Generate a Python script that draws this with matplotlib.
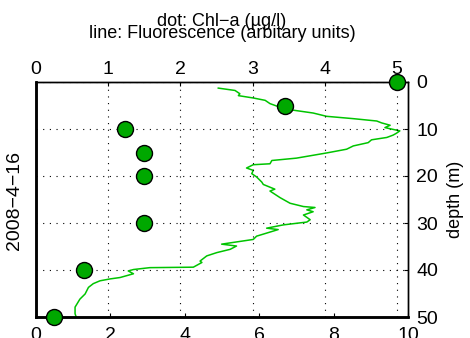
import matplotlib
matplotlib.use("Agg")

import matplotlib.pyplot as plt

plt.rcParams["font.family"] = ["Liberation Sans", "DejaVu Sans"]

# Chl-a samples (dots, top axis)
chl_depth = [0, 5, 10, 15, 20, 30, 40, 50]
chl_value = [5.0, 3.45, 1.23, 1.49, 1.49, 1.49, 0.66, 0.25]

# Fluorescence profile (line, bottom axis)
fl_depth = [1.3, 1.8, 2.5, 2.9, 3.4, 3.9, 4.6, 5.2, 6.0, 6.6, 7.3, 7.8, 8.3,
            8.7, 9.2, 9.7, 10.4, 10.9, 11.3, 11.8, 12.3, 12.9, 13.6, 14.3,
            15.1, 16.2, 16.7, 17.4, 17.6, 18.3, 18.8, 19.5, 20.2, 21.3, 21.8,
            22.8, 23.2, 24.6, 25.8, 26.5, 26.7, 27.2, 27.6, 28.3, 29.3, 29.8,
            30.4, 31.1, 31.4, 32.8, 33.5, 34.5, 34.9, 35.6, 36.3, 37.0, 38.1,
            38.4, 39.4, 39.5, 39.9, 40.2, 40.8, 41.6, 41.9, 42.3, 42.9, 43.7,
            45.1, 46.2, 47.9, 49.3, 50.0]
fl_value = [4.90, 5.35, 5.48, 5.44, 5.84, 6.16, 6.29, 6.50, 6.92, 7.45, 7.81,
            8.53, 9.16, 9.29, 9.52, 9.38, 9.78, 9.69, 9.60, 9.43, 9.02, 8.93,
            8.53, 8.35, 7.81, 7.00, 6.34, 6.29, 5.84, 5.66, 5.84, 5.80, 5.93,
            6.07, 6.11, 6.42, 6.29, 6.56, 6.83, 7.19, 7.50, 7.28, 7.45, 7.19,
            7.37, 7.28, 6.65, 6.20, 6.51, 5.93, 5.84, 4.99, 5.39, 5.22, 4.86,
            4.59, 4.41, 4.46, 4.23, 3.06, 2.62, 2.48, 2.62, 2.26, 1.99, 1.72,
            1.54, 1.41, 1.32, 1.18, 1.05, 1.05, 1.08]

top_ticks = [0, 1, 2, 3, 4, 5]
bottom_ticks = [0, 2, 4, 6, 8, 10]
depth_ticks = [0, 10, 20, 30, 40, 50]

fig = plt.figure(figsize=(4.7, 3.38), dpi=100)
ax = fig.add_axes([36 / 470, 1 - 317 / 338, 372 / 470, 235 / 338])

# fluorescence line
ax.plot(fl_value, fl_depth, color="#00c400", linewidth=1.1, zorder=2)
ax.set_xlim(0, 10)
ax.set_ylim(50, 0)
ax.set_xticks(bottom_ticks)
ax.set_yticks(depth_ticks)
ax.yaxis.tick_right()
ax.yaxis.set_label_position("right")
ax.set_ylabel("depth (m)", fontsize=13, labelpad=6)
ax.tick_params(axis="both", direction="in", labelsize=14, length=3)
ax.tick_params(axis="y", pad=6)
ax.tick_params(axis="x", pad=7)
ax.yaxis.grid(True, linestyle=(0, (1, 5)), color="black", linewidth=0.8)

# chlorophyll dots
ax2 = ax.twiny()
ax2.plot(chl_value, chl_depth, "o", markersize=11.5, markerfacecolor="#00a800",
         markeredgecolor="black", markeredgewidth=1.0, clip_on=False, zorder=3)
ax2.set_xlim(0, 5.15)
ax2.set_xticks(top_ticks)
ax2.tick_params(axis="x", direction="in", labelsize=14, length=3, pad=3)
ax2.xaxis.grid(True, linestyle=(0, (1, 5)), color="black", linewidth=0.8)

for a in (ax, ax2):
    a.spines["left"].set_linewidth(1.8)
    a.spines["bottom"].set_linewidth(1.8)
    a.spines["top"].set_linewidth(1.0)
    a.spines["right"].set_linewidth(1.0)

fig.text(15 / 470, 1 - 201 / 338, "2008\u22124\u221216", rotation=90,
         ha="center", va="center", fontsize=14)
fig.text(222 / 470, 1 - 21 / 338, "dot: Chl\u2212a (\u00b5g/l)",
         ha="center", va="center", fontsize=13)
fig.text(222 / 470, 1 - 33 / 338, "line: Fluorescence (arbitary units)",
         ha="center", va="center", fontsize=13)

fig.savefig("out.png", dpi=100)
